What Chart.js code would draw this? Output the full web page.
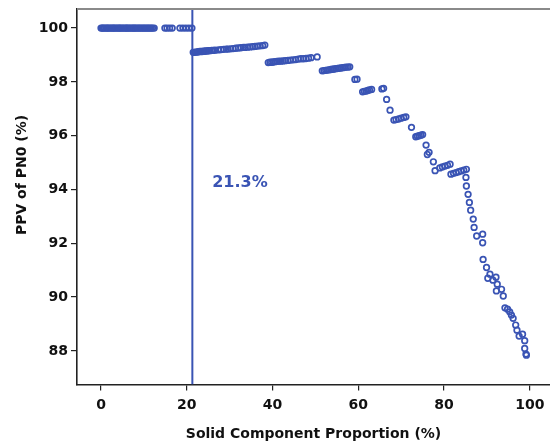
<!DOCTYPE html>
<html>
<head>
<meta charset="utf-8">
<script src="https://cdn.jsdelivr.net/npm/chart.js@4.4.1/dist/chart.umd.min.js"></script>
<style>
  html, body { margin: 0; padding: 0; background: #ffffff; }
  #box { width: 550px; height: 441px; }
</style>
</head>
<body>
<div id="box"><canvas id="myChart-grafico"></canvas></div>
<script>
// dados (x = proporcao solida, y = PPV)
const solidPct = [
  0, 0.3, 0.5, 0.8, 1.1, 1.4, 1.6, 1.9, 2.2, 2.5, 2.8, 3.0, 3.3, 3.6, 3.9, 4.2, 4.4, 4.7, 5.0, 5.3,
  5.6, 5.9, 6.1, 6.4, 6.7, 7.0, 7.3, 7.6, 7.8, 8.1, 8.4, 8.7, 9.0, 9.3, 9.6, 9.9, 10.2, 10.5, 10.8, 11.1,
  11.4, 11.7, 12.0, 12.4, 14.9, 15.4, 16.0, 16.6, 18.4, 19.1, 19.8, 20.5, 21.2,
  21.5, 21.8, 22.1, 22.4, 22.7, 23.0, 23.3, 23.6, 23.9, 24.2, 24.5, 24.8, 25.1, 25.4, 25.8, 26.2, 26.6,
  27.4, 28.0, 28.6, 29.2, 29.6, 30.2, 30.8, 31.4, 32.0, 32.6, 33.2, 33.6, 34.2, 34.8, 35.4, 35.9, 36.5,
  37.1, 37.7, 38.2,
  39.0, 39.4, 39.8, 40.2, 40.6, 41.0, 41.5, 42.0, 42.5, 43.0, 43.6, 44.2, 44.8, 45.4, 46.0, 46.6, 47.2,
  47.8, 48.4, 49.0, 50.4,
  51.6, 52.0, 52.4, 52.8, 53.2, 53.6, 54.0, 54.4, 54.8, 55.2, 55.6, 56.0, 56.4, 56.8, 57.2, 57.6, 58.0,
  59.2, 59.7,
  61.0, 61.4, 61.8, 62.2, 62.6, 63.1,
  65.5, 65.9, 66.6, 67.4,
  68.3, 68.8, 69.4, 70.0, 70.6, 71.1, 72.4,
  73.4, 73.8, 74.2, 74.6, 75.0, 75.8, 76.1, 76.5, 77.5, 77.9,
  79.0, 79.6, 80.2, 80.8, 81.4,
  81.6, 82.2, 82.8, 83.4, 84.0, 84.6, 85.2,
  85.1, 85.2, 85.6, 85.9, 86.2, 86.8, 87.0, 87.6, 89.0, 89.0, 89.1, 89.9,
  90.2, 90.7, 91.4, 92.1, 92.4, 92.2, 93.4, 93.8,
  94.2, 94.8, 95.3, 95.7, 96.1, 96.7, 97.0, 97.5, 98.3, 98.8, 98.8, 99.1, 99.2
];
const ppv = [
  100, 100, 100, 100, 100, 100, 100, 100, 100, 100, 100, 100, 100, 100, 100, 100, 100, 100, 100, 100,
  100, 100, 100, 100, 100, 100, 100, 100, 100, 100, 100, 100, 100, 100, 100, 100, 100, 100, 100, 100,
  100, 100, 100, 100, 100, 100, 100, 100, 100, 100, 100, 100, 100,
  99.10, 99.10, 99.11, 99.11, 99.12, 99.13, 99.13, 99.13, 99.14, 99.14, 99.15, 99.15, 99.16, 99.16, 99.17, 99.17, 99.18,
  99.19, 99.20, 99.21, 99.22, 99.22, 99.23, 99.24, 99.25, 99.26, 99.27, 99.28, 99.28, 99.29, 99.30, 99.31, 99.32, 99.33,
  99.34, 99.35, 99.37,
  98.72, 98.73, 98.73, 98.74, 98.75, 98.76, 98.77, 98.77, 98.78, 98.79, 98.80, 98.81, 98.82, 98.83, 98.85, 98.86, 98.86,
  98.87, 98.88, 98.90, 98.93,
  98.41, 98.42, 98.43, 98.44, 98.45, 98.46, 98.47, 98.48, 98.49, 98.50, 98.51, 98.52, 98.53, 98.54, 98.55, 98.55, 98.56,
  98.09, 98.10,
  97.63, 97.65, 97.66, 97.68, 97.70, 97.72,
  97.74, 97.76, 97.35, 96.95,
  96.58, 96.60, 96.62, 96.65, 96.68, 96.70, 96.31,
  95.96, 95.98, 96.00, 96.02, 96.04, 95.65, 95.30, 95.38, 95.03, 94.70,
  94.80, 94.84, 94.87, 94.90, 94.94,
  94.57, 94.60, 94.63, 94.66, 94.69, 94.72, 94.75,
  94.45, 94.13, 93.82, 93.52, 93.23, 92.90, 92.59, 92.27, 92.34, 92.02, 91.40, 91.10,
  90.70, 90.85, 90.63, 90.74, 90.48, 90.23, 90.29, 90.04,
  89.60, 89.55, 89.45, 89.33, 89.21, 88.96, 88.77, 88.55, 88.62, 88.38, 88.09, 87.88, 87.84
];
const cutoff = 21.3;
const cutoffLabel = '21.3%';
const xTicks = [0, 20, 40, 60, 80, 100];
const yTicks = [88, 90, 92, 94, 96, 98, 100];

const xMin = -5.6, xMax = 104.7;
const yMin = 86.75, yMax = 100.71;
const azul = 'rgb(58, 84, 180)';
const fonte = 'DejaVu Sans';

// desenha borda de cima, titulo do eixo Y e o rotulo do corte
const extras = {
  id: 'extras',
  afterDraw(chart) {
    const ctx = chart.ctx;
    const a = chart.chartArea;
    ctx.save();
    ctx.strokeStyle = '#8a8a8a';
    ctx.lineWidth = 2;
    ctx.beginPath();
    ctx.moveTo(a.left, a.top);
    ctx.lineTo(a.right, a.top);
    ctx.stroke();

    ctx.fillStyle = '#111';
    ctx.font = 'bold 14px "' + fonte + '"';
    ctx.textAlign = 'center';
    ctx.textBaseline = 'middle';
    ctx.translate(22, 175);
    ctx.rotate(-Math.PI / 2);
    ctx.fillText('PPV of PN0 (%)', 0, 0);
    ctx.restore();

    ctx.save();
    ctx.fillStyle = azul;
    ctx.font = 'bold 16px "' + fonte + '"';
    ctx.textAlign = 'center';
    ctx.textBaseline = 'middle';
    ctx.fillText(cutoffLabel, chart.scales.x.getPixelForValue(32.4), chart.scales.y.getPixelForValue(94.24));
    ctx.restore();
  }
};

const pontos = solidPct.map((v, i) => ({ x: v, y: ppv[i] }));

const ctx2 = document.getElementById('myChart-grafico').getContext('2d');
chart = new Chart(ctx2, {
  type: 'scatter',
  data: {
    datasets: [{
      data: pontos,
      pointRadius: 2.8,
      pointBorderWidth: 1.7,
      pointBackgroundColor: 'rgba(0,0,0,0)',
      pointBorderColor: azul
    }, {
      type: 'line',
      data: [{ x: cutoff, y: yMin }, { x: cutoff, y: yMax }],
      borderColor: azul,
      borderWidth: 2,
      pointRadius: 0
    }]
  },
  options: {
    responsive: true,
    maintainAspectRatio: false,
    animation: false,
    devicePixelRatio: 1,
    layout: { autoPadding: false, padding: { top: 9, right: 0, bottom: 0, left: 0 } },
    plugins: {
      legend: { display: false },
      tooltip: { enabled: false }
    },
    scales: {
      x: {
        type: 'linear',
        min: xMin,
        max: xMax,
        afterBuildTicks: s => { s.ticks = xTicks.map(v => ({ value: v })); },
        afterFit: s => { s.height = 56.5; s.paddingLeft = 0; s.paddingRight = 0; },
        grid: { display: true, drawOnChartArea: false, drawTicks: true, tickLength: 6, color: '#222', lineWidth: 1.2 },
        border: { display: true, color: '#222', width: 1.6 },
        ticks: {
          color: '#111',
          padding: 6,
          maxRotation: 0,
          font: { family: fonte, size: 14, weight: 'bold' }
        },
        title: {
          display: true,
          text: 'Solid Component Proportion (%)',
          color: '#111',
          padding: { top: 0, bottom: 0 },
          font: { family: fonte, size: 14, weight: 'bold', lineHeight: 1 }
        }
      },
      y: {
        type: 'linear',
        min: yMin,
        max: yMax,
        afterBuildTicks: s => { s.ticks = yTicks.map(v => ({ value: v })); },
        afterFit: s => { s.width = 77; s.paddingTop = 0; s.paddingBottom = 0; },
        grid: { display: true, drawOnChartArea: false, drawTicks: true, tickLength: 6, color: '#222', lineWidth: 1.2 },
        border: { display: true, color: '#222', width: 1.6 },
        ticks: {
          color: '#111',
          padding: 3,
          font: { family: fonte, size: 14, weight: 'bold' }
        }
      }
    }
  },
  plugins: [extras]
});
</script>
</body>
</html>
